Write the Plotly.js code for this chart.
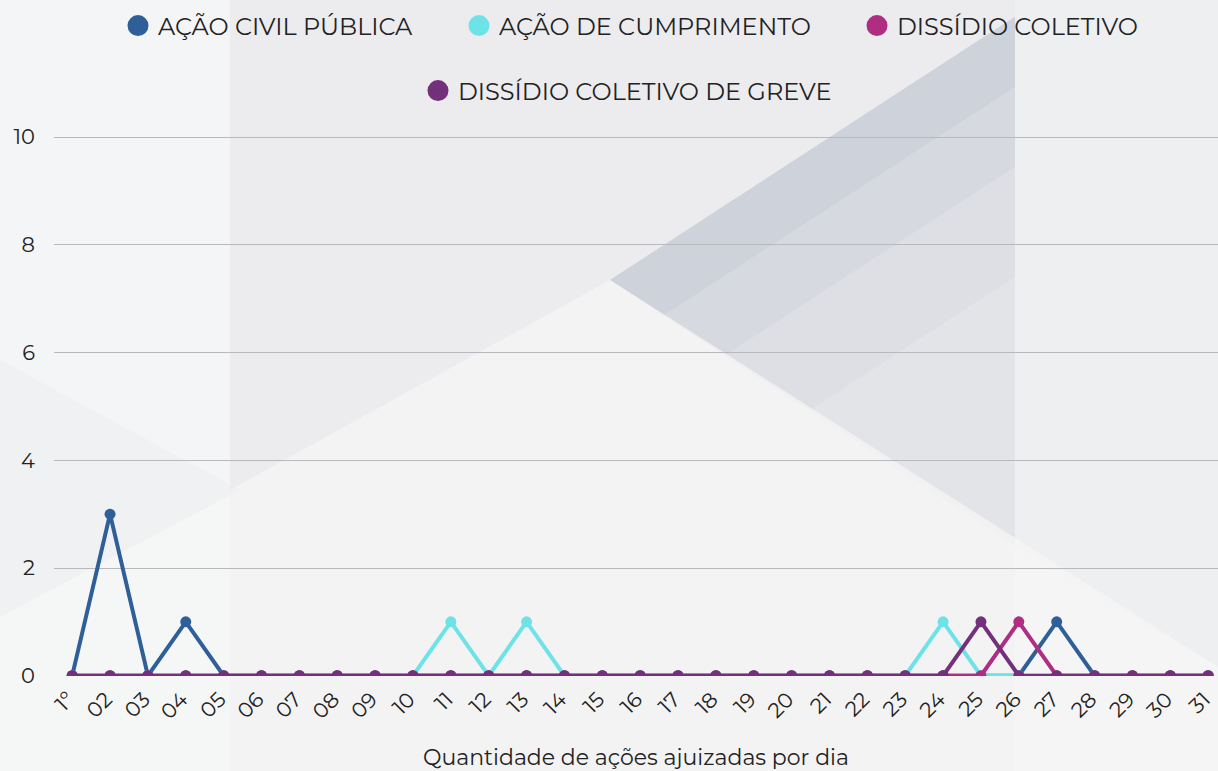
<!DOCTYPE html>
<html>
<head>
<meta charset="utf-8">
<script src="https://cdn.plot.ly/plotly-3.0.1.min.js"></script>
<style>
html,body{margin:0;padding:0;background:#f1f1f3;}
#chart{width:1218px;height:771px;}
</style>
</head>
<body>
<div id="chart"></div>
<script>
// ---- data ----
const days = ["1º","02","03","04","05","06","07","08","09","10","11","12","13","14","15","16","17","18","19","20","21","22","23","24","25","26","27","28","29","30","31"];
const seriesNames = ["AÇÃO CIVIL PÚBLICA","AÇÃO DE CUMPRIMENTO","DISSÍDIO COLETIVO","DISSÍDIO COLETIVO DE GREVE"];
const acaoCivilPublica   = [0,3,0,1,0,0,0,0,0,0,0,0,0,0,0,0,0,0,0,0,0,0,0,0,0,0,1,0,0,0,0];
const acaoCumprimento    = [0,0,0,0,0,0,0,0,0,0,1,0,1,0,0,0,0,0,0,0,0,0,0,1,0,0,0,0,0,0,0];
const dissidioColetivo   = [0,0,0,0,0,0,0,0,0,0,0,0,0,0,0,0,0,0,0,0,0,0,0,0,0,1,0,0,0,0,0];
const dissidioGreve      = [0,0,0,0,0,0,0,0,0,0,0,0,0,0,0,0,0,0,0,0,0,0,0,0,1,0,0,0,0,0,0];
const yTicks = [0,2,4,6,8,10];
const xTitle = "Quantidade de ações ajuizadas por dia";

// ---- styling ----
const colors = ["#2e5f99","#6de3e8","#b02e82","#72317a"];
const seriesValues = [acaoCivilPublica, acaoCumprimento, dissidioColetivo, dissidioGreve];
const legendIds = ["legend","legend2","legend3","legend4"];
// legend symbol centres in pixels (x, y)
const legendPos = [[138,26],[479,26],[877,26],[438,91]];
const FONT = "Montserrat, 'Open Sans', sans-serif";

const W = 1218, H = 771, ML = 54, MR = 0, MT = 136, MB = 95;
const PW = W - ML - MR, PH = H - MT - MB;
const px = x => (x - ML) / PW;
const py = y => (H - MB - y) / PH;
function poly(pts){
  return "M " + pts.map(p => px(p[0]).toFixed(4) + "," + py(p[1]).toFixed(4)).join(" L ") + " Z";
}

const traces = [];
seriesValues.forEach((vals, i) => {
  traces.push({
    type: "scatter", mode: "lines+markers",
    x: days, y: vals, name: seriesNames[i],
    line: {color: colors[i], width: 4},
    marker: {color: colors[i], size: 11},
    showlegend: false, legendgroup: "g" + i,
    hoverinfo: "x+y+name"
  });
});
seriesValues.forEach((vals, i) => {
  traces.push({
    type: "scatter", mode: "markers",
    x: [null], y: [null], name: seriesNames[i],
    marker: {color: colors[i], size: 26, line: {color: colors[i], width: 5}},
    showlegend: true, legendgroup: "g" + i, legend: legendIds[i]
  });
});

// decorative background geometry (pixels)
const A = [610, 280], S1 = -0.65, S2 = 0.657, XB = 1015;
const yL1 = A[1] + S1 * (XB - A[0]);
function strip(d){
  const t = d / (S2 - S1);
  const yEnd = Math.min(yL1 + d, A[1] + S2 * (XB - A[0]));
  return poly([A, [XB, yL1], [XB, yEnd], [A[0] + t, A[1] + S2 * t]]);
}
const bgShapes = [
  // lighter left column
  {path: poly([[0,0],[230,0],[230,771],[0,771]]), fillcolor: "#f7f8f8", opacity: 0.6},
  // central vertical band
  {path: poly([[230,0],[1015,0],[1015,771],[230,771]]), fillcolor: "#e6e6ea", opacity: 0.45},
  // wedge between the two diagonals, darker along the upper diagonal
  {path: strip(700), fillcolor: "#dfe1e5", opacity: 0.7},
  {path: strip(260), fillcolor: "#cfd4db", opacity: 0.3},
  {path: strip(150), fillcolor: "#c6ccd6", opacity: 0.3},
  {path: strip(70), fillcolor: "#bec6d1", opacity: 0.35},
  // right upper region
  {path: poly([[1015,0],[1218,0],[1218,667],[1015,546]]), fillcolor: "#eceeee", opacity: 0.6},
  // lower light area below diagonals
  {path: poly([[0,617],[A[0],A[1]],[1218,667],[1218,771],[0,771]]), fillcolor: "#f5f5f6", opacity: 0.75},
  // faint bottom-left triangle
  {path: poly([[0,360],[240,490],[0,617]]), fillcolor: "#eaeaee", opacity: 0.4}
].map(s => Object.assign({type: "path", xref: "paper", yref: "paper", layer: "below", line: {width: 0}}, s));

const layout = {
  width: W, height: H,
  paper_bgcolor: "#f1f1f3",
  plot_bgcolor: "rgba(0,0,0,0)",
  margin: {l: ML, r: MR, t: MT, b: MB, pad: 0},
  font: {family: FONT, color: "#222222"},
  showlegend: true,
  xaxis: {
    type: "category",
    range: [-0.48, 30.26],
    tickangle: -45,
    tickfont: {size: 21, color: "#222222", family: FONT},
    ticklabelshift: -4, ticklabelstandoff: 6,
    showgrid: false, zeroline: false, showline: false,
    ticks: "",
    title: {text: xTitle, font: {size: 22, color: "#222222", family: FONT}, standoff: 31},
    fixedrange: true
  },
  yaxis: {
    range: [-0.005, 10.02],
    tickvals: yTicks,
    tickfont: {size: 21, color: "#222222", family: FONT},
    ticklabelstandoff: 18,
    showgrid: true, gridcolor: "#b9b9bd", gridwidth: 1,
    zeroline: false, showline: false,
    ticks: "",
    fixedrange: true
  },
  shapes: bgShapes
};
legendIds.forEach((id, i) => {
  layout[id] = {
    orientation: "h", x: px(legendPos[i][0] - 20), xanchor: "left",
    y: py(legendPos[i][1]), yanchor: "middle",
    font: {size: 24, color: "#222222", family: FONT},
    bgcolor: "rgba(0,0,0,0)", borderwidth: 0
  };
});

Plotly.newPlot("chart", traces, layout, {displayModeBar: false});
</script>
</body>
</html>
